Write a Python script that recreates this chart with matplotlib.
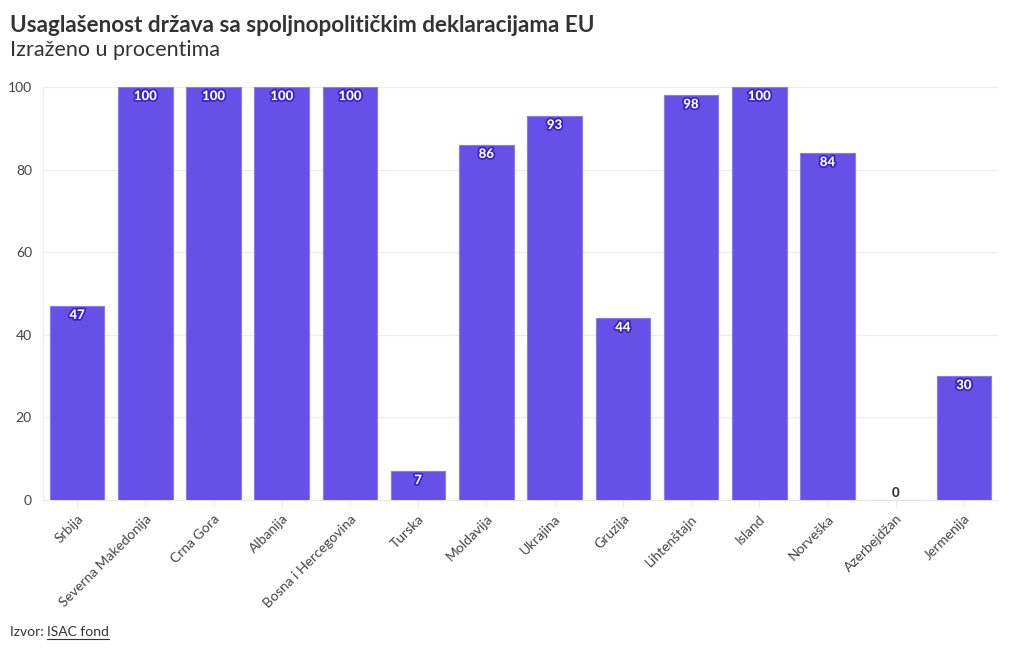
import matplotlib
matplotlib.use("Agg")
import matplotlib.pyplot as plt
import matplotlib.patheffects as pe
import numpy as np

countries = ["Srbija", "Severna Makedonija", "Crna Gora", "Albanija", "Bosna i Hercegovina",
             "Turska", "Moldavija", "Ukrajina", "Gruzija", "Lihtenštajn", "Island", "Norveška",
             "Azerbejdžan", "Jermenija"]
values = [47, 100, 100, 100, 100, 7, 86, 93, 44, 98, 100, 84, 0, 30]
yticks = [0, 20, 40, 60, 80, 100]

plt.rcParams['font.family'] = ['Lato', 'DejaVu Sans']

fig = plt.figure(figsize=(10.2, 6.5), dpi=100)
ax = fig.add_axes([43/1020, 1-500/650, (998-43)/1020, (500-87)/650])

x = np.arange(len(countries))
bar_color = "#6650e8"
ax.bar(x, values, width=0.8, color=bar_color, edgecolor="#8a7cf0", linewidth=0.8, zorder=3)

for xi, v in zip(x, values):
    if v > 0:
        ax.text(xi, v - 2.2, str(v), ha="center", va="center", fontsize=9.5, fontweight="black",
                color="white", zorder=5,
                path_effects=[pe.withStroke(linewidth=2.5, foreground="#3a22c8")])
    else:
        ax.text(xi, v + 1.6, str(v), ha="center", va="center", fontsize=9.5, fontweight="black",
                color="#333333", zorder=5)

ax.set_xlim(-0.5, len(countries) - 0.5)
ax.set_ylim(0, 100)
ax.set_yticks(yticks)
ax.set_xticks(x)
ax.set_xticklabels(countries, rotation=45, ha="right", rotation_mode="anchor", fontsize=10, color="#444444")
ax.tick_params(axis="y", length=0, labelsize=10, labelcolor="#444444", pad=8)
ax.tick_params(axis="x", length=5, color="#ececec", width=0.8, pad=4)
ax.grid(True, axis="y", color="#ececec", linewidth=0.8, zorder=0)
for s in ["top", "right"]:
    ax.spines[s].set_visible(False)
ax.spines["left"].set_color("#ececec")
ax.spines["bottom"].set_color("#e6e6e6")

fig.text(10/1020, 1-25/650, "Usaglašenost država sa spoljnopolitičkim deklaracijama EU", fontsize=16.2,
         fontweight="bold", color="#333333", va="center", ha="left")
fig.text(10/1020, 1-50/650, "Izraženo u procentima", fontsize=15.5, color="#333333", va="center", ha="left")

t1 = fig.text(10/1020, 1-632/650, "Izvor: ", fontsize=10, color="#333333", va="center", ha="left")
fig.canvas.draw()
bb = t1.get_window_extent()
fig.text(bb.x1/1020, 1-632/650, "ISAC fond", fontsize=10, color="#333333", va="center", ha="left")
r = fig.canvas.get_renderer()
fig.canvas.draw()
t2 = fig.texts[-1]
bb2 = t2.get_window_extent(renderer=r)
fig.add_artist(plt.Line2D([bb2.x0/1020, bb2.x1/1020], [(bb2.y0-0.5)/650]*2, color="#333333", linewidth=0.8,
                          transform=fig.transFigure))

fig.savefig("out.png", dpi=100)
